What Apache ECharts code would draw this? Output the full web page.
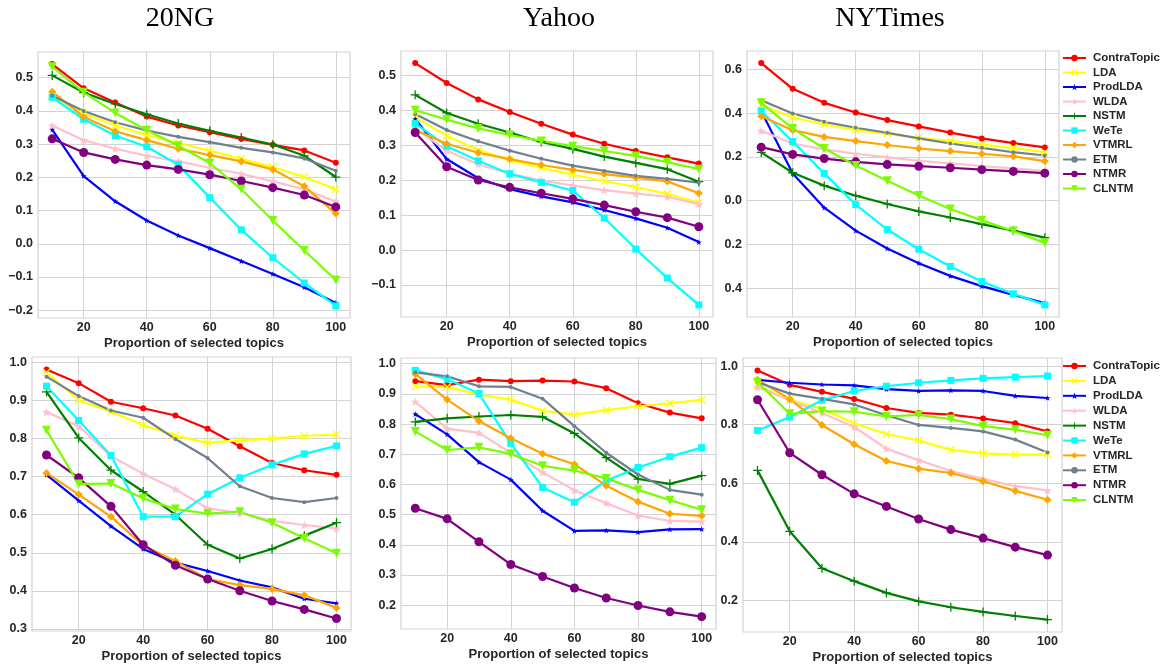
<!DOCTYPE html>
<html>
<head>
<meta charset="utf-8">
<script src="https://cdn.jsdelivr.net/npm/echarts@6/dist/echarts.min.js"></script>
<style>
html,body{margin:0;padding:0;background:#fff;}
#chart{width:1161px;height:671px;}
</style>
</head>
<body>
<div id="chart"></div>
<script>
// ---------------- DATA ----------------
const xValues = [10, 20, 30, 40, 50, 60, 70, 80, 90, 100];
const methods = ['ContraTopic', 'LDA', 'ProdLDA', 'WLDA', 'NSTM', 'WeTe', 'VTMRL', 'ETM', 'NTMR', 'CLNTM'];
const datasetTitles = ['20NG', 'Yahoo', 'NYTimes'];
const xAxisName = 'Proportion of selected topics';
const xTicks = [20, 40, 60, 80, 100];

// rows follow the order of `methods`
const ng20Top = [
  [0.541, 0.468, 0.425, 0.383, 0.356, 0.336, 0.316, 0.298, 0.281, 0.244],
  [0.445, 0.392, 0.357, 0.327, 0.304, 0.280, 0.256, 0.231, 0.201, 0.164],
  [0.344, 0.204, 0.128, 0.070, 0.025, -0.013, -0.052, -0.091, -0.131, -0.178],
  [0.356, 0.312, 0.286, 0.265, 0.248, 0.229, 0.211, 0.188, 0.164, 0.127],
  [0.507, 0.455, 0.421, 0.390, 0.362, 0.340, 0.320, 0.299, 0.265, 0.201],
  [0.441, 0.375, 0.326, 0.292, 0.238, 0.139, 0.042, -0.042, -0.118, -0.187],
  [0.458, 0.382, 0.339, 0.312, 0.286, 0.267, 0.248, 0.224, 0.173, 0.091],
  [0.446, 0.400, 0.366, 0.341, 0.322, 0.306, 0.289, 0.275, 0.257, 0.220],
  [0.316, 0.275, 0.254, 0.237, 0.224, 0.208, 0.189, 0.169, 0.147, 0.111],
  [0.533, 0.456, 0.394, 0.342, 0.295, 0.243, 0.164, 0.070, -0.020, -0.109]
];
const yahooTop = [
  [0.536, 0.479, 0.432, 0.396, 0.362, 0.331, 0.305, 0.284, 0.266, 0.248],
  [0.380, 0.328, 0.287, 0.258, 0.236, 0.216, 0.198, 0.181, 0.161, 0.136],
  [0.376, 0.261, 0.206, 0.175, 0.154, 0.137, 0.115, 0.091, 0.064, 0.023],
  [0.349, 0.285, 0.246, 0.219, 0.200, 0.185, 0.172, 0.162, 0.153, 0.132],
  [0.445, 0.393, 0.362, 0.337, 0.310, 0.290, 0.268, 0.250, 0.232, 0.196],
  [0.363, 0.298, 0.256, 0.219, 0.194, 0.171, 0.092, 0.003, -0.080, -0.157],
  [0.344, 0.305, 0.279, 0.261, 0.244, 0.230, 0.218, 0.208, 0.197, 0.163],
  [0.390, 0.344, 0.312, 0.285, 0.262, 0.242, 0.227, 0.213, 0.204, 0.193],
  [0.337, 0.239, 0.201, 0.180, 0.163, 0.147, 0.129, 0.110, 0.093, 0.067],
  [0.401, 0.374, 0.349, 0.330, 0.313, 0.298, 0.284, 0.270, 0.252, 0.232]
];
const nytTop = [
  [0.630, 0.512, 0.448, 0.404, 0.369, 0.340, 0.312, 0.285, 0.264, 0.244],
  [0.437, 0.381, 0.349, 0.323, 0.306, 0.288, 0.274, 0.257, 0.242, 0.222],
  [0.411, 0.125, -0.032, -0.137, -0.219, -0.286, -0.344, -0.391, -0.431, -0.469],
  [0.320, 0.262, 0.235, 0.215, 0.198, 0.183, 0.171, 0.158, 0.148, 0.136],
  [0.221, 0.128, 0.069, 0.023, -0.015, -0.049, -0.077, -0.107, -0.137, -0.169],
  [0.411, 0.271, 0.125, -0.018, -0.132, -0.222, -0.301, -0.370, -0.426, -0.477],
  [0.387, 0.323, 0.292, 0.273, 0.255, 0.239, 0.227, 0.215, 0.203, 0.181],
  [0.460, 0.399, 0.361, 0.334, 0.311, 0.285, 0.262, 0.242, 0.222, 0.207],
  [0.245, 0.212, 0.193, 0.178, 0.166, 0.158, 0.151, 0.142, 0.134, 0.126],
  [0.448, 0.330, 0.239, 0.161, 0.091, 0.024, -0.038, -0.090, -0.139, -0.193]
];
const ng20Bottom = [
  [0.982, 0.946, 0.897, 0.880, 0.861, 0.826, 0.780, 0.736, 0.717, 0.705],
  [0.974, 0.901, 0.871, 0.836, 0.808, 0.789, 0.796, 0.800, 0.807, 0.811],
  [0.705, 0.637, 0.570, 0.510, 0.474, 0.452, 0.427, 0.409, 0.379, 0.367],
  [0.870, 0.833, 0.754, 0.708, 0.667, 0.617, 0.604, 0.584, 0.573, 0.564],
  [0.923, 0.802, 0.717, 0.661, 0.600, 0.521, 0.485, 0.510, 0.545, 0.579],
  [0.938, 0.848, 0.756, 0.595, 0.595, 0.654, 0.697, 0.731, 0.760, 0.781],
  [0.710, 0.653, 0.595, 0.519, 0.478, 0.431, 0.415, 0.405, 0.388, 0.355],
  [0.963, 0.912, 0.874, 0.855, 0.799, 0.749, 0.675, 0.644, 0.633, 0.644],
  [0.757, 0.697, 0.622, 0.521, 0.467, 0.431, 0.400, 0.373, 0.351, 0.327],
  [0.822, 0.681, 0.682, 0.643, 0.615, 0.603, 0.608, 0.579, 0.538, 0.499]
];
const yahooBottom = [
  [0.942, 0.929, 0.947, 0.942, 0.944, 0.941, 0.919, 0.869, 0.838, 0.819],
  [0.925, 0.923, 0.898, 0.881, 0.844, 0.831, 0.846, 0.859, 0.869, 0.880],
  [0.833, 0.766, 0.674, 0.616, 0.513, 0.446, 0.448, 0.442, 0.451, 0.452],
  [0.874, 0.785, 0.771, 0.705, 0.640, 0.581, 0.538, 0.497, 0.479, 0.477],
  [0.807, 0.819, 0.825, 0.830, 0.824, 0.769, 0.689, 0.618, 0.602, 0.629],
  [0.978, 0.949, 0.901, 0.736, 0.590, 0.541, 0.612, 0.656, 0.692, 0.722],
  [0.966, 0.881, 0.810, 0.753, 0.702, 0.667, 0.596, 0.543, 0.503, 0.496],
  [0.971, 0.958, 0.925, 0.923, 0.884, 0.793, 0.705, 0.633, 0.582, 0.566],
  [0.521, 0.486, 0.410, 0.335, 0.295, 0.257, 0.224, 0.199, 0.178, 0.162],
  [0.775, 0.714, 0.723, 0.701, 0.662, 0.646, 0.620, 0.582, 0.548, 0.516]
];
const nytBottom = [
  [0.985, 0.936, 0.912, 0.888, 0.857, 0.840, 0.834, 0.821, 0.805, 0.777],
  [0.934, 0.885, 0.854, 0.805, 0.768, 0.746, 0.714, 0.702, 0.698, 0.698],
  [0.953, 0.943, 0.937, 0.934, 0.921, 0.915, 0.917, 0.915, 0.898, 0.891],
  [0.928, 0.883, 0.840, 0.792, 0.718, 0.679, 0.642, 0.615, 0.590, 0.576],
  [0.644, 0.436, 0.310, 0.266, 0.226, 0.197, 0.177, 0.161, 0.147, 0.135],
  [0.780, 0.826, 0.883, 0.915, 0.931, 0.943, 0.951, 0.958, 0.962, 0.966],
  [0.953, 0.888, 0.799, 0.733, 0.676, 0.650, 0.635, 0.607, 0.574, 0.544],
  [0.945, 0.906, 0.888, 0.869, 0.832, 0.799, 0.789, 0.777, 0.749, 0.705],
  [0.885, 0.704, 0.629, 0.564, 0.521, 0.478, 0.442, 0.413, 0.382, 0.355],
  [0.945, 0.837, 0.846, 0.844, 0.828, 0.833, 0.819, 0.795, 0.783, 0.764]
];

// y tick values and the label text shown at each
const yTicksNg20Top = [-0.2, -0.1, 0.0, 0.1, 0.2, 0.3, 0.4, 0.5];
const yLabelsNg20Top = ['\u22120.2', '\u22120.1', '0.0', '0.1', '0.2', '0.3', '0.4', '0.5'];
const yTicksYahooTop = [-0.1, 0.0, 0.1, 0.2, 0.3, 0.4, 0.5];
const yLabelsYahooTop = ['\u22120.1', '0.0', '0.1', '0.2', '0.3', '0.4', '0.5'];
const yTicksNytTop = [-0.4, -0.2, 0.0, 0.2, 0.4, 0.6];
const yLabelsNytTop = ['0.4', '0.2', '0.0', '0.2', '0.4', '0.6'];
const yTicksNg20Bottom = [0.3, 0.4, 0.5, 0.6, 0.7, 0.8, 0.9, 1.0];
const yLabelsNg20Bottom = ['0.3', '0.4', '0.5', '0.6', '0.7', '0.8', '0.9', '1.0'];
const yTicksYahooBottom = [0.2, 0.3, 0.4, 0.5, 0.6, 0.7, 0.8, 0.9, 1.0];
const yLabelsYahooBottom = ['0.2', '0.3', '0.4', '0.5', '0.6', '0.7', '0.8', '0.9', '1.0'];
const yTicksNytBottom = [0.2, 0.4, 0.6, 0.8, 1.0];
const yLabelsNytBottom = ['0.2', '0.4', '0.6', '0.8', '1.0'];

// ---------------- STYLE ----------------
const colors = ['#ff0000', '#ffff00', '#0000ff', '#ffc0cb', '#008000', '#00ffff', '#ffa500', '#708090', '#800080', '#7cfc00'];
const P_X = 'path://M0,1.2 L1.2,0 L5,3.8 L8.8,0 L10,1.2 L6.2,5 L10,8.8 L8.8,10 L5,6.2 L1.2,10 L0,8.8 L3.8,5 Z';
const P_PLUS = 'path://M4.3,0 H5.7 V4.3 H10 V5.7 H5.7 V10 H4.3 V5.7 H0 V4.3 H4.3 Z';
const P_STAR = 'path://M5,0 L6.18,3.38 L9.76,3.45 L6.9,5.62 L7.94,9.05 L5,7 L2.06,9.05 L3.1,5.62 L0.24,3.45 L3.82,3.38 Z';
const symbols = [
  ['circle', 6], [P_X, 8], [P_STAR, 6], [P_STAR, 9], [P_PLUS, 9],
  ['rect', 7], ['diamond', 8], ['circle', 4], ['circle', 9], ['triangle', 9]
];

const TXT = '#262626';
const GRIDC = '#d3d3d3';
const FONT = '"Liberation Sans", Arial, sans-serif';

const panels = [
  { rows: ng20Top, ticks: yTicksNg20Top, labels: yLabelsNg20Top, grid: { left: 38, right: 811, top: 52, bottom: 353 } },
  { rows: yahooTop, ticks: yTicksYahooTop, labels: yLabelsYahooTop, grid: { left: 401, right: 448, top: 51, bottom: 354 } },
  { rows: nytTop, ticks: yTicksNytTop, labels: yLabelsNytTop, grid: { left: 747, right: 102, top: 51, bottom: 354 } },
  { rows: ng20Bottom, ticks: yTicksNg20Bottom, labels: yLabelsNg20Bottom, grid: { left: 32, right: 810, top: 357, bottom: 40 } },
  { rows: yahooBottom, ticks: yTicksYahooBottom, labels: yLabelsYahooBottom, grid: { left: 401, right: 445, top: 358, bottom: 42 } },
  { rows: nytBottom, ticks: yTicksNytBottom, labels: yLabelsNytBottom, grid: { left: 743, right: 99, top: 358, bottom: 39 } }
];

const grids = [], xAxes = [], yAxes = [], series = [];
panels.forEach((p, i) => {
  grids.push(Object.assign({ show: true, borderColor: GRIDC, borderWidth: 1.2, backgroundColor: '#fff' }, p.grid));
  xAxes.push({
    type: 'value', gridIndex: i,
    min: v => v.min - 0.05 * (v.max - v.min),
    max: v => v.max + 0.05 * (v.max - v.min),
    name: xAxisName, nameLocation: 'middle', nameGap: 18.5,
    nameTextStyle: { fontSize: 13, fontWeight: 'bold', color: TXT, fontFamily: FONT },
    axisLine: { show: false },
    axisTick: { show: false, customValues: xTicks },
    axisLabel: { customValues: xTicks, margin: 3, fontSize: 12.5, fontWeight: 'bold', color: TXT, fontFamily: FONT },
    splitLine: { show: true, lineStyle: { color: GRIDC, width: 1 } }
  });
  const labelOf = v => {
    for (let k = 0; k < p.ticks.length; k++) if (Math.abs(p.ticks[k] - v) < 1e-6) return p.labels[k];
    return '';
  };
  yAxes.push({
    type: 'value', gridIndex: i,
    min: v => v.min - 0.05 * (v.max - v.min),
    max: v => v.max + 0.05 * (v.max - v.min),
    axisLine: { show: false },
    axisTick: { show: false, customValues: p.ticks },
    axisLabel: { customValues: p.ticks, formatter: labelOf, margin: 5, fontSize: 12.5, fontWeight: 'bold', color: TXT, fontFamily: FONT },
    splitLine: { show: true, lineStyle: { color: GRIDC, width: 1 } }
  });
  p.rows.forEach((vals, m) => {
    const sym = symbols[m];
    series.push({
      type: 'line', name: methods[m], xAxisIndex: i, yAxisIndex: i,
      data: xValues.map((x, j) => [x, vals[j]]),
      symbol: sym[0], symbolSize: sym[1], symbolKeepAspect: true,
      symbolRotate: m === 9 ? 180 : 0,
      showAllSymbol: true,
      color: colors[m],
      itemStyle: { color: colors[m] },
      lineStyle: { color: colors[m], width: 2.2 },
      emphasis: { disabled: true },
      animation: false
    });
  });
});

const legendBase = {
  orient: 'vertical', left: 1062, padding: 0, itemWidth: 23, itemHeight: 8,
  textStyle: { fontSize: 11.5, fontWeight: 'bold', color: TXT, fontFamily: FONT, padding: [0, 0, 0, 2] },
  data: methods
};

const titleCenters = [175, 554, 885];
const option = {
  backgroundColor: '#fff',
  animation: false,
  title: datasetTitles.map((t, i) => ({
    text: t, left: titleCenters[i], top: 0, textAlign: 'center',
    textStyle: { fontFamily: '"Liberation Serif", "Times New Roman", serif', fontSize: 28, fontWeight: 'normal', color: '#000' }
  })),
  legend: [
    Object.assign({ top: 52, itemGap: 2.5 }, legendBase),
    Object.assign({ top: 360, itemGap: 2.9 }, legendBase)
  ],
  grid: grids, xAxis: xAxes, yAxis: yAxes, series: series
};

const chart = echarts.init(document.getElementById('chart'), null, { renderer: 'canvas' });
chart.setOption(option);
</script>
</body>
</html>
